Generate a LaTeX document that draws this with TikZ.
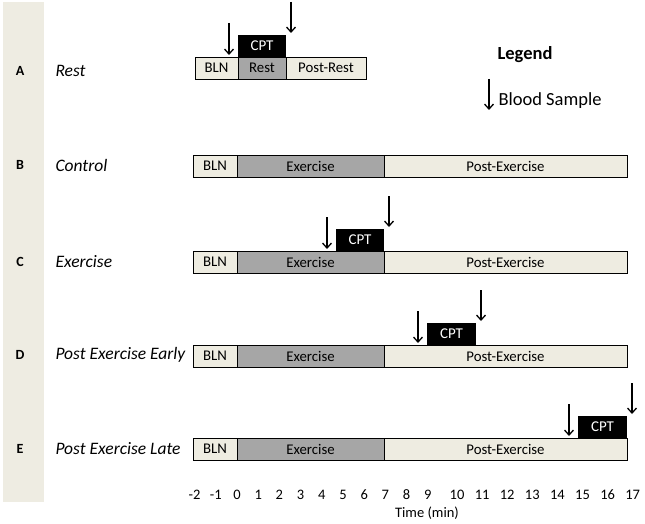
\documentclass[tikz,border=0pt]{standalone}
\usepackage{fontspec}
\setmainfont{Carlito}
\usepackage{tikz}
\usetikzlibrary{positioning,calc,arrows.meta,shadows}

\definecolor{sidebar}{RGB}{238,236,226}
\definecolor{paleseg}{RGB}{238,236,225}
\definecolor{darkseg}{RGB}{166,166,166}

\begin{document}
\begin{tikzpicture}[x=1pt,y=-1pt,
	seg/.style={draw, line width=0.8pt, inner sep=0pt, outer sep=0pt, minimum height=22pt,
		drop shadow={shadow xshift=1.2pt, shadow yshift=-1.2pt, opacity=0.35},
		font=\fontsize{14.8}{16}\selectfont},
	pale/.style={seg, fill=paleseg},
	dark/.style={seg, fill=darkseg},
	cpt/.style={fill=black, text=white, inner sep=0pt, outer sep=0pt, minimum width=48pt,
		minimum height=22pt, font=\fontsize{15}{16}\selectfont},
	sample/.style={-{Straight Barb[length=5pt,width=9pt]}, line width=1.3pt},
	rowid/.style={font=\bfseries\fontsize{14}{16}\selectfont},
	rowname/.style={anchor=west, font=\itshape\fontsize{17.5}{19}\selectfont},
	tick/.style={font=\fontsize{14.5}{16}\selectfont}]
			\useasboundingbox (0,0) rectangle (645,524);
			\fill[sidebar] (3,2) rectangle (44,502);
			
			% row A
			\node[rowid] (idA) at (20,71) {A};
			\node[rowname] (nameA) at (52,71) {Rest};
			\node[pale, minimum width=43pt] (blnA) at (216.5,68) {BLN};
			\node[dark, minimum width=48pt, right=0pt of blnA] (restA) {Rest};
			\node[pale, minimum width=80pt, right=0pt of restA] (postA) {Post-Rest};
			\node[cpt, above=0pt of restA] (cptA) {CPT};
			
			% row B
			\node[rowid] (idB) at (20,165) {B};
			\node[rowname] (nameB) at (52,165) {Control};
			\node[pale, minimum width=44pt] (blnB) at (215,166) {BLN};
			\node[dark, minimum width=147pt, right=0pt of blnB] (exB) {Exercise};
			\node[pale, minimum width=243pt, right=0pt of exB] (postB) {Post-Exercise};
			
			% row C
			\node[rowid] (idC) at (20,262) {C};
			\node[rowname] (nameC) at (52,262) {Exercise};
			\node[pale, minimum width=44pt] (blnC) at (215,262) {BLN};
			\node[dark, minimum width=147pt, right=0pt of blnC] (exC) {Exercise};
			\node[pale, minimum width=243pt, right=0pt of exC] (postC) {Post-Exercise};
			\node[cpt, anchor=south east] (cptC) at (exC.north east) {CPT};
			
			% row D
			\node[rowid] (idD) at (20,355) {D};
			\node[rowname] (nameD) at (52,355) {Post Exercise Early};
			\node[pale, minimum width=44pt] (blnD) at (215,356) {BLN};
			\node[dark, minimum width=147pt, right=0pt of blnD] (exD) {Exercise};
			\node[pale, minimum width=243pt, right=0pt of exD] (postD) {Post-Exercise};
			\node[cpt, minimum width=49pt, anchor=south west] (cptD) at ($(postD.north west)+(43,0)$) {CPT};
			
			% row E
			\node[rowid] (idE) at (20,449) {E};
			\node[rowname] (nameE) at (52,449) {Post Exercise Late};
			\node[pale, minimum width=44pt] (blnE) at (215,449) {BLN};
			\node[dark, minimum width=147pt, right=0pt of blnE] (exE) {Exercise};
			\node[pale, minimum width=243pt, right=0pt of exE] (postE) {Post-Exercise};
			\node[cpt, minimum width=49pt, anchor=south east] (cptE) at (postE.north east) {CPT};
			
			% blood samples
			\foreach \c in {cptA,cptC,cptD,cptE}{
				\draw[sample] ($(\c.south west)+(-9,-34)$) -- ($(\c.south west)+(-9,-2)$);
				\draw[sample] ($(\c.north east)+(5,-33)$) -- ($(\c.north east)+(5,-2)$);
			}
			
			% legend
			\node[font=\bfseries\fontsize{18.5}{20}\selectfont] (legend) at (525,55) {Legend};
			\node[anchor=west, font=\fontsize{18.5}{20}\selectfont] (blood) at (495,101) {Blood Sample};
			\draw[sample] ($(blood.west)+(-6,-22)$) -- ($(blood.west)+(-6,9)$);
			
			% time axis
			\foreach \t in {-2,...,9}
				\node[tick] (t\t) at (237+21.2*\t,495) {\t};
			\foreach \t in {10,...,17}
				\node[tick] (t\t) at (457+25.1*\t-251,495) {\t};
			\node[tick] (time) at (427,513) {Time (min)};
			\end{tikzpicture}
\end{document}
